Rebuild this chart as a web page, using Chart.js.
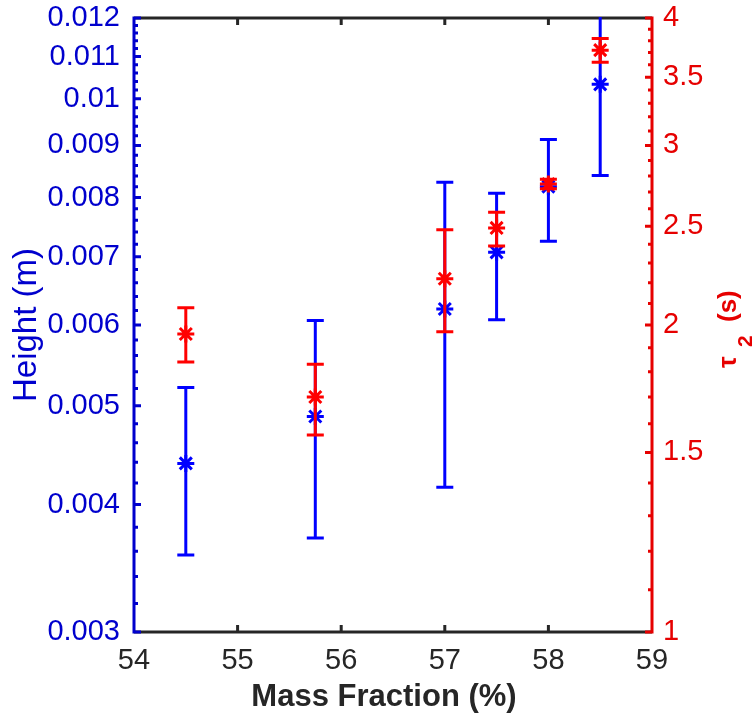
<!DOCTYPE html>
<html>
<head>
<meta charset="utf-8">
<script src="https://cdn.jsdelivr.net/npm/chart.js@4.4.1/dist/chart.umd.min.js"></script>
<style>
  body { margin: 0; background: #fff; }
  canvas { display: block; }
</style>
</head>
<body>
<canvas id="grafico" width="754" height="717"></canvas>
<script>
// valores
const massFraction = [54.5, 55.75, 57, 57.5, 58, 58.5];
const height = [0.00439, 0.00488, 0.00622, 0.00707, 0.00820, 0.01033];
const heightLow = [0.00357, 0.00371, 0.00416, 0.00607, 0.00725, 0.00841];
const heightHigh = [0.00521, 0.00606, 0.00828, 0.00808, 0.00912, 0.0122];
const tau2 = [1.96, 1.70, 2.22, 2.49, 2.75, 3.72];
const tau2Low = [1.84, 1.56, 1.97, 2.39, 2.72, 3.62];
const tau2High = [2.08, 1.83, 2.48, 2.58, 2.78, 3.82];

const xTicks = [54, 55, 56, 57, 58, 59];
const heightTicks = [0.003, 0.004, 0.005, 0.006, 0.007, 0.008, 0.009, 0.01, 0.011, 0.012];
const tauTicks = [1, 1.5, 2, 2.5, 3, 3.5, 4];

const corAzul = '#0000ff';
const corAzulEixo = '#0000cd';
const corVermelho = '#ff0000';
const corVermelhoEixo = '#e60000';
const corEixoX = '#262626';
const fonte = 'Liberation Sans, Arial, sans-serif';

// barras de erro desenhadas antes dos pontos de cada serie
const barrasErro = {
  id: 'barrasErro',
  beforeDatasetDraw(chart, args) {
    const ds = chart.data.datasets[args.index];
    const xs = chart.scales.x;
    const ys = chart.scales[ds.yAxisID];
    const ctx = chart.ctx;
    const a = chart.chartArea;
    ctx.save();
    ctx.beginPath();
    ctx.rect(a.left, a.top - 1, a.right - a.left, a.bottom - a.top + 2);
    ctx.clip();
    ctx.strokeStyle = ds.borderColor;
    ctx.lineWidth = 3;
    ds.data.forEach((p, i) => {
      const px = xs.getPixelForValue(p.x);
      const yLo = ys.getPixelForValue(ds.errLow[i]);
      const yHi = ys.getPixelForValue(ds.errHigh[i]);
      ctx.beginPath();
      ctx.moveTo(px, yLo); ctx.lineTo(px, yHi);
      ctx.moveTo(px - 8.5, yLo); ctx.lineTo(px + 8.5, yLo);
      ctx.moveTo(px - 8.5, yHi); ctx.lineTo(px + 8.5, yHi);
      ctx.stroke();
    });
    ctx.restore();
  }
};

// moldura estilo MATLAB com ticks para dentro
const moldura = {
  id: 'moldura',
  beforeDatasetsDraw(chart) {
    const ctx = chart.ctx;
    const a = chart.chartArea;
    const xs = chart.scales.x, yl = chart.scales.y, yr = chart.scales.y1;
    ctx.save();
    ctx.lineWidth = 3;
    // topo e base
    ctx.strokeStyle = corEixoX;
    ctx.beginPath();
    ctx.moveTo(a.left, a.top); ctx.lineTo(a.right, a.top);
    ctx.moveTo(a.left, a.bottom); ctx.lineTo(a.right, a.bottom);
    for (const v of xTicks.slice(1, -1)) {
      const px = xs.getPixelForValue(v);
      ctx.moveTo(px, a.bottom); ctx.lineTo(px, a.bottom - 7);
      ctx.moveTo(px, a.top); ctx.lineTo(px, a.top + 7);
    }
    ctx.stroke();
    // eixo esquerdo
    ctx.strokeStyle = corAzulEixo;
    ctx.beginPath();
    ctx.moveTo(a.left, a.top - 1.5); ctx.lineTo(a.left, a.bottom + 1.5);
    for (let k = 15; k <= 60; k++) {
      const py = yl.getPixelForValue(k * 0.0002);
      ctx.moveTo(a.left, py); ctx.lineTo(a.left + (k % 5 === 0 ? 7 : 4), py);
    }
    ctx.stroke();
    // eixo direito
    ctx.strokeStyle = corVermelhoEixo;
    ctx.beginPath();
    ctx.moveTo(a.right, a.top - 1.5); ctx.lineTo(a.right, a.bottom + 1.5);
    for (let k = 10; k <= 40; k++) {
      const py = yr.getPixelForValue(k / 10);
      ctx.moveTo(a.right, py); ctx.lineTo(a.right - (k % 5 === 0 ? 7 : 4), py);
    }
    ctx.stroke();
    ctx.restore();
  },
  afterDraw(chart) {
    const ctx = chart.ctx;
    const a = chart.chartArea;
    ctx.save();
    ctx.textAlign = 'center';
    ctx.textBaseline = 'alphabetic';
    // titulo x
    ctx.fillStyle = corEixoX;
    ctx.font = 'bold 31px ' + fonte;
    ctx.fillText('Mass Fraction (%)', 384, 706);
    // titulo y esquerdo
    ctx.save();
    ctx.translate(36, (a.top + a.bottom) / 2);
    ctx.rotate(-Math.PI / 2);
    ctx.fillStyle = corAzulEixo;
    ctx.font = '33px ' + fonte;
    ctx.fillText('Height (m)', 0, 0);
    ctx.restore();
    // titulo y direito: tau com subscrito 2
    ctx.save();
    ctx.translate(736, 368);
    ctx.rotate(-Math.PI / 2);
    ctx.fillStyle = corVermelhoEixo;
    ctx.textAlign = 'left';
    ctx.font = 'bold 26px ' + fonte;
    ctx.fillText('τ', 0, 0);
    ctx.fillText('(s)', 46, 0);
    ctx.font = 'bold 21px ' + fonte;
    ctx.fillText('2', 21, 16);
    ctx.restore();
    ctx.restore();
  }
};

const semPaddingVertical = s => { s.paddingTop = 0; s.paddingBottom = 0; };

const dados = {
  datasets: [
    {
      label: 'Height',
      data: massFraction.map((x, i) => ({ x: x, y: height[i] })),
      errLow: heightLow,
      errHigh: heightHigh,
      yAxisID: 'y',
      borderColor: corAzul,
      backgroundColor: corAzul,
      pointStyle: 'star',
      pointRadius: 8.5,
      pointBorderWidth: 3,
      showLine: false,
      order: 1
    },
    {
      label: 'tau2',
      data: massFraction.map((x, i) => ({ x: x, y: tau2[i] })),
      errLow: tau2Low,
      errHigh: tau2High,
      yAxisID: 'y1',
      borderColor: corVermelho,
      backgroundColor: corVermelho,
      pointStyle: 'star',
      pointRadius: 8.5,
      pointBorderWidth: 3,
      showLine: false,
      order: 0
    }
  ]
};

const config = {
  type: 'scatter',
  data: dados,
  options: {
    responsive: false,
    animation: false,
    layout: { padding: { top: 18, left: 0, right: 0, bottom: 0 } },
    plugins: { legend: { display: false }, tooltip: { enabled: false } },
    scales: {
      x: {
        type: 'linear',
        position: 'bottom',
        min: 54,
        max: 59,
        afterBuildTicks: s => { s.ticks = xTicks.map(v => ({ value: v })); },
        afterFit: s => { s.height = 85; },
        grid: { display: false },
        border: { display: false },
        ticks: { color: corEixoX, font: { family: fonte, size: 29 }, padding: 4, autoSkip: false, maxRotation: 0 }
      },
      y: {
        type: 'logarithmic',
        position: 'left',
        min: 0.003,
        max: 0.012,
        afterBuildTicks: s => { s.ticks = heightTicks.map(v => ({ value: v })); },
        afterFit: s => { s.width = 134; semPaddingVertical(s); },
        grid: { display: false },
        border: { display: false },
        ticks: { color: corAzulEixo, font: { family: fonte, size: 29 }, padding: 6, autoSkip: false,
                 callback: v => String(v) }
      },
      y1: {
        type: 'logarithmic',
        position: 'right',
        min: 1,
        max: 4,
        afterBuildTicks: s => { s.ticks = tauTicks.map(v => ({ value: v })); },
        afterFit: s => { s.width = 102; semPaddingVertical(s); },
        grid: { display: false },
        border: { display: false },
        ticks: { color: corVermelhoEixo, font: { family: fonte, size: 29 }, padding: 3, autoSkip: false,
                 callback: v => String(v) }
      }
    }
  },
  plugins: [barrasErro, moldura]
};

let grafico = new Chart(document.getElementById('grafico'), config);
</script>
</body>
</html>
